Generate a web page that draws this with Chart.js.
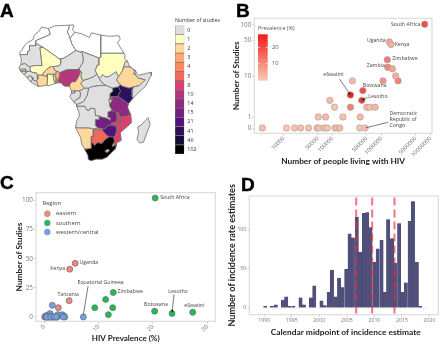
<!DOCTYPE html>
<html>
<head>
<meta charset="utf-8">
<script src="https://cdn.jsdelivr.net/npm/chart.js@4"></script>
<style>
  html, body { margin: 0; padding: 0; background: #fff; }
  #page { position: relative; width: 440px; height: 344px; overflow: hidden; }
  canvas { position: absolute; }
  .letter { position: absolute; font: bold 19px "Liberation Sans", sans-serif; line-height: 19px; color: #000; -webkit-text-stroke: 0.4px #000; }
</style>
</head>
<body>
<div id="page">
  <canvas id="map" width="165" height="172" style="left:0;top:0"></canvas>
  <canvas id="mapKey" width="55" height="172" style="left:165px;top:0"></canvas>
  <canvas id="people" width="220" height="172" style="left:220px;top:0"></canvas>
  <canvas id="prev" width="220" height="172" style="left:0;top:172px"></canvas>
  <canvas id="hist" width="220" height="172" style="left:220px;top:172px"></canvas>
  <div class="letter" style="left:0;top:1px">A</div>
  <div class="letter" style="left:236px;top:1px">B</div>
  <div class="letter" style="left:0;top:173px">C</div>
  <div class="letter" style="left:241px;top:175px">D</div>
</div>
<script>
// panel A: studies per country, outlines are [lon, lat]
const keyLabels = ["0", "1", "2", "3", "4", "5", "8", "10", "14", "15", "21", "41", "46", "102"];
const keyColors = ["#dfdfdf", "#ffffc0", "#fed79b", "#fea772", "#fd8a5e", "#f4675c", "#dc3f6b", "#b5367a", "#8c2981", "#71207f", "#51127c", "#2c115f", "#140e36", "#000000"];

const countries = {
  Morocco: [null, [[-17,21.3],[-17,22.5],[-16,23.7],[-14.5,26.2],[-13,27.7],[-10,29.5],[-9.7,31.5],[-6.8,34],[-5.9,35.8],[-2.2,35.1],[-1.2,32.1],[-3.6,30.9],[-8.7,28.7],[-8.7,26],[-12,26],[-12,23.4],[-13,23],[-13,21.3]]],
  Algeria: [null, [[-8.7,27.3],[-8.7,28.7],[-3.6,30.9],[-1.2,32.1],[-2.2,35.1],[1,36.5],[8.6,36.9],[8.3,34.5],[7.5,33.8],[9,30],[9.9,27],[12,23.5],[5.8,19.4],[3.3,19],[1.2,20.7],[-4.8,25]]],
  Tunisia: [null, [[8.6,36.9],[11,37],[10.2,34.3],[11.5,33.1],[10.2,31.5],[9,30],[7.5,33.8],[8.3,34.5]]],
  Libya: [null, [[11.5,33.1],[15,32.3],[19,30.3],[20,32.8],[25,31.6],[25,20],[24,19.5],[15,23],[14.2,22.6],[12,23.5],[9.9,27],[9,30],[10.2,31.5]]],
  Egypt: [null, [[25,31.6],[29,31],[32.5,31.2],[34.3,31.3],[34.9,29.5],[33.5,27.5],[35.7,23.9],[36.9,22],[25,22]]],
  Mauritania: [0, [[-17,21.3],[-13,21.3],[-13,23],[-12,23.4],[-12,26],[-8.7,26],[-8.7,27.3],[-4.8,25],[-6.6,25],[-5.5,15.5],[-9.5,15.5],[-12,14.8],[-14.5,16.6],[-16.5,16],[-16.2,19]]],
  Mali: [1, [[-4.8,25],[1.2,20.7],[3.3,19],[4.2,19.1],[4.2,16.8],[3.5,15.4],[0.3,14.9],[-0.5,15.1],[-2,14.2],[-3,13.6],[-4.4,12.2],[-5.4,10.4],[-6.2,10.5],[-8,10.3],[-8.3,11.5],[-10.7,11.9],[-11.4,12.4],[-12,14.8],[-9.5,15.5],[-5.5,15.5],[-6.6,25]]],
  Niger: [0, [[12,23.5],[14.2,22.6],[15,23],[15.5,21],[15.9,19],[15.5,16.9],[13.6,13.7],[13.2,13.5],[10.7,13.3],[7.8,13.3],[6.8,13.1],[3.6,11.7],[2.8,12.3],[2.2,12.4],[0.9,13],[0.3,14.9],[3.5,15.4],[4.2,16.8],[4.2,19.1],[5.8,19.4]]],
  Chad: [0, [[15,23],[24,19.5],[24,15.7],[23,15.7],[22.5,14.1],[22,12.9],[22.9,11],[21,9.5],[18.9,8.6],[15.5,7.5],[14.5,10],[15,12],[14,13],[13.6,13.7],[15.5,16.9],[15.9,19],[15.5,21]]],
  Sudan: [1, [[25,22],[36.9,22],[37.4,21],[37.3,18.9],[38.6,18],[37.4,17.2],[36.5,14.3],[36.1,12.7],[35,11],[34,9.6],[32.7,12.2],[29,9.6],[27,9.6],[26,10.7],[24,8.8],[22.9,11],[22,12.9],[22.5,14.1],[23,15.7],[24,15.7],[24,19.5],[25,20]]],
  SouthSudan: [0, [[24,8.8],[26,10.7],[27,9.6],[29,9.6],[32.7,12.2],[34,9.6],[33,7.9],[35,5.3],[34,4.2],[30.8,3.5],[29,4.4],[27.4,5],[25,7]]],
  CAR: [0, [[15.5,7.5],[18.9,8.6],[21,9.5],[22.9,11],[24,8.8],[25,7],[27.4,5],[25,5],[22.8,4.7],[20.5,4.4],[18.6,3.5],[16.5,3.5],[15,5],[14.5,6.2]]],
  Eritrea: [0, [[36.5,14.3],[37.4,17.2],[38.6,18],[39.7,15.1],[43,12.7],[42.4,12.5],[40.5,14.6],[37.9,14.9]]],
  Djibouti: [0, [[42.4,12.5],[43,12.7],[43.3,11.6],[42.6,11],[41.8,11.1]]],
  Ethiopia: [2, [[36.1,12.7],[36.5,14.3],[37.9,14.9],[40.5,14.6],[42.4,12.5],[41.8,11.1],[42.6,11],[44,9],[47.9,8],[44.9,5],[42,4.2],[39.5,3.5],[35.9,4.6],[35,5.3],[33,7.9],[34,9.6],[35,11]]],
  Somalia: [0, [[42.6,11],[43.3,11.6],[44.5,10.4],[51,12],[51,10.4],[48,4.5],[44.7,1.5],[41.6,-1.7],[41,-0.9],[41,2.8],[42,4.2],[44.9,5],[47.9,8],[44,9]]],
  Kenya: [41, [[35.9,4.6],[39.5,3.5],[42,4.2],[41,2.8],[41,-0.9],[41.6,-1.7],[39.2,-4.7],[37.7,-3.6],[34,-1],[34,0.2],[35,1.9],[34,4.2],[35,5.3]]],
  Uganda: [46, [[30.8,3.5],[34,4.2],[35,1.9],[34,0.2],[34,-1],[30.4,-1],[29.6,-1.4],[29.6,0.6],[31.2,2.2]]],
  Rwanda: [8, [[29.6,-1.4],[30.4,-1],[30.8,-2.3],[29,-2.8]]],
  Burundi: [1, [[29,-2.8],[30.8,-2.3],[30.2,-4.2],[29.4,-4.4]]],
  Tanzania: [14, [[30.4,-1],[34,-1],[37.7,-3.6],[39.2,-4.7],[38.8,-6.5],[39.5,-8.5],[40.4,-10.4],[38,-11.3],[34.9,-11.6],[34,-9.5],[33,-9.5],[31.2,-8.6],[29.5,-6],[29.4,-4.4],[30.2,-4.2],[30.8,-2.3]]],
  Mozambique: [8, [[40.4,-10.4],[40.8,-14.7],[38,-17.3],[35,-19.9],[35.5,-24],[33,-25.5],[32.9,-26.9],[32,-26.9],[31.3,-25.7],[32,-24.5],[31.3,-22.4],[32.4,-21.3],[33,-19],[32.9,-16.7],[30.4,-16],[30.2,-15],[33.2,-14],[34.5,-14.5],[35.2,-16.9],[35.8,-16],[34.9,-11.6],[38,-11.3]]],
  Malawi: [8, [[34,-9.5],[34.9,-11.6],[35.8,-16],[35.2,-16.9],[34.5,-14.5],[33.2,-14],[33,-9.5]]],
  Zambia: [15, [[31.2,-8.6],[33,-9.5],[33.2,-14],[30.2,-15],[30.4,-16],[28.8,-16.1],[27,-17.9],[25.3,-17.8],[23.4,-17.6],[22,-16.2],[22,-13],[24,-13],[24,-11],[25.3,-11.7],[28,-12.3],[29.8,-13.4],[29.8,-12.2],[28.5,-11.7],[28.6,-9],[30.7,-8.2]]],
  Zimbabwe: [21, [[27,-17.9],[28.8,-16.1],[30.4,-16],[32.9,-16.7],[33,-19],[32.4,-21.3],[31.3,-22.4],[29.4,-22.2],[28,-21.5],[26.2,-19.5],[25.3,-17.8]]],
  Botswana: [5, [[20,-22],[21,-22],[21,-18.3],[23.4,-18.5],[25.3,-17.8],[26.2,-19.5],[28,-21.5],[29.4,-22.2],[27,-23.7],[25.5,-25.7],[23,-25.3],[21.7,-26.8],[20,-24.8]]],
  Namibia: [2, [[11.8,-17.3],[13.9,-17.4],[18.5,-17.4],[21,-18],[23.4,-17.6],[25.3,-17.8],[23.4,-18.5],[21,-18.3],[21,-22],[20,-22],[20,-28.4],[17.3,-28.7],[16.5,-28.6],[15,-26],[14.4,-22.5]]],
  SouthAfrica: [102, [[16.5,-28.6],[17.3,-28.7],[20,-28.4],[20,-24.8],[21.7,-26.8],[23,-25.3],[25.5,-25.7],[27,-23.7],[29.4,-22.2],[31.3,-22.4],[32,-24.5],[31.3,-25.7],[32,-26.9],[32.9,-26.9],[32.5,-28.5],[31,-30],[28,-33],[25.7,-34],[22.5,-34],[20,-34.8],[18.4,-34.2],[18.2,-32],[17,-29.7]]],
  Lesotho: [3, [[27,-29.6],[28.6,-28.6],[29.4,-29.4],[28.5,-30.4],[27.4,-30.3]]],
  eSwatini: [4, [[30.8,-26.4],[31.4,-25.8],[32,-26],[32,-26.9],[31,-27.3]]],
  Angola: [0, [[11.8,-17.3],[13.9,-17.4],[18.5,-17.4],[21,-18],[23.4,-17.6],[22,-16.2],[22,-13],[24,-13],[24,-11],[22.2,-11],[21.8,-7.3],[19.5,-7],[19,-8],[17.6,-8],[16.5,-5.9],[12.3,-6],[13.5,-9],[13.8,-11],[12.5,-13.5]]],
  DRC: [0, [[12.3,-6],[16.5,-5.9],[17.6,-8],[19,-8],[19.5,-7],[21.8,-7.3],[22.2,-11],[24,-11],[25.3,-11.7],[28,-12.3],[29.8,-13.4],[29.8,-12.2],[28.5,-11.7],[28.6,-9],[30.7,-8.2],[29.5,-6],[29.4,-4.4],[29,-2.8],[29.6,-1.4],[29.6,0.6],[31.2,2.2],[30.8,3.5],[29,4.4],[27.4,5],[25,5],[22.8,4.7],[20.5,4.4],[18.6,3.5],[17.7,-0.5],[16,-3.5],[14,-4.5],[12.3,-5]]],
  Congo: [0, [[18.6,3.5],[16.5,3.5],[14,2.2],[13.2,2.2],[14.4,1.3],[14,-1.5],[12,-2.5],[11,-4],[12.3,-5],[14,-4.5],[16,-3.5],[17.7,-0.5]]],
  Gabon: [0, [[9.7,1],[11.3,1],[11.3,2.2],[13.2,2.2],[14.4,1.3],[14,-1.5],[12,-2.5],[11,-4],[8.8,-1]]],
  EqGuinea: [0, [[9.7,2.2],[11.3,2.2],[11.3,1],[9.7,1]]],
  Cameroon: [2, [[8.5,4.7],[9.7,2.2],[13.2,2.2],[14,2.2],[16.5,3.5],[15,5],[14.5,6.2],[15.5,7.5],[14.5,10],[15,12],[14,13],[13.6,13.7],[14.2,12],[13,9],[11.7,7],[10,7],[8.8,5.8]]],
  Nigeria: [10, [[2.7,6.4],[4.5,6.3],[5.5,4.9],[7,4.4],[8.5,4.7],[8.8,5.8],[10,7],[11.7,7],[13,9],[14.2,12],[13.6,13.7],[13.2,13.5],[10.7,13.3],[7.8,13.3],[6.8,13.1],[3.6,11.7],[3.7,10],[2.7,8]]],
  Benin: [3, [[1.6,6.2],[2.7,6.4],[2.7,8],[3.7,10],[3.6,11.7],[2.8,12.3],[2.2,12.4],[0.9,11],[1.6,9]]],
  Togo: [0, [[1.2,6.1],[1.6,6.2],[1.6,9],[0.9,11],[0,11],[0.5,8]]],
  Ghana: [1, [[-3.1,5.1],[-2,4.8],[1.2,6.1],[0.5,8],[0,11],[-2.8,11],[-2.7,8]]],
  Ivory: [2, [[-7.5,4.4],[-3.1,5.1],[-2.7,8],[-2.8,9.7],[-3.5,9.9],[-5.4,10.4],[-6.2,10.5],[-8,10.3],[-7.7,8.4],[-8.4,7.6]]],
  Burkina: [2, [[-5.4,10.4],[-3.5,9.9],[-2.8,11],[0,11],[0.9,11],[2.2,12.4],[0.9,13],[0.3,14.9],[-0.5,15.1],[-2,14.2],[-3,13.6],[-4.4,12.2]]],
  Liberia: [0, [[-11.5,6.9],[-7.5,4.4],[-8.4,7.6],[-9.5,7.4],[-10.3,8.4]]],
  SierraLeone: [0, [[-13.2,8.9],[-11.5,6.9],[-10.3,8.4],[-10.7,9.3],[-11.2,10],[-12.5,9.9]]],
  Guinea: [0, [[-15,10.9],[-13.2,8.9],[-12.5,9.9],[-11.2,10],[-10.7,9.3],[-10.3,8.4],[-9.5,7.4],[-8.4,7.6],[-7.7,8.4],[-8,10.3],[-8.3,11.5],[-10.7,11.9],[-11.4,12.4],[-13.7,12.6],[-13.7,11.8]]],
  GuineaBissau: [0, [[-16.7,12.4],[-15,10.9],[-13.7,11.8],[-13.7,12.6]]],
  Senegal: [0, [[-17.5,14.7],[-16.7,12.4],[-13.7,12.6],[-11.4,12.4],[-12,14.8],[-14.5,16.6],[-16.5,16]]],
  Gambia: [1, [[-16.8,13.7],[-14,13.7],[-14,13.1],[-16.8,13.1]]],
  Madagascar: [0, [[49.3,-12],[50.4,-15.5],[49.5,-18],[47,-25],[45,-25.5],[43.6,-23.5],[44.4,-20],[44,-17],[46,-15.7],[48,-13.5]]]
};

// panel B
const bPeople = [3670, 11500, 16800, 22200, 32400, 48000, 52600, 67600, 77800, 112000, 124000, 141000, 361000, 464000,
  51000, 72000, 163000, 367000, 110000, 233000, 502000, 578000, 743000, 88300, 397000, 233000, 416000,
  256000, 1080000, 2190000, 1960000, 1320000, 1350000, 1680000, 1450000, 1570000, 7650000];
const bStudies = [0, 0, 0, 0, 0, 0, 0, 0, 0, 0, 0, 0, 0, 0,
  1, 1, 1, 1, 2, 2, 2, 2, 2, 3, 3, 4, 5,
  8, 8, 8, 10, 21, 15, 14, 46, 41, 102];
const bPrev = [2, 1, 1.5, 2, 2, 1, 2, 2, 1, 2, 2, 3, 1, 1,
  2, 3, 2, 3, 1, 11.8, 3, 2, 3, 3, 23.5, 27.3, 20.3,
  2.6, 9.3, 12.6, 5, 12.7, 11.3, 6, 5.7, 4.7, 20.4];
const bXTicks = [10000, 50000, 100000, 500000, 1000000, 5000000, 10000000];
const bYTicks = [0, 1, 10, 50, 100];

// panel C
const regionNames = ["eastern", "southern", "western/central"];
const regionColors = ["#f2877e", "#22bb55", "#6f9fee"];
const eastern = [[5.7, 46], [4.7, 41], [4.6, 14], [2.6, 8], [0.9, 2], [1, 0], [0.3, 1], [0.1, 0], [1.6, 0], [2.3, 0]];
const southern = [[20.4, 102], [12.7, 21], [11.3, 15], [12.6, 8], [9.3, 8], [11.8, 2], [20.3, 5], [23.5, 3], [27.3, 4]];
const westernCentral = [[7.2, 0], [1.5, 10], [0.2, 0], [0.5, 0], [0.8, 0], [1.1, 3], [1.4, 0], [1.6, 0], [2, 0], [2.4, 0], [2.5, 2], [3.3, 2], [3.6, 1], [3.8, 0], [0.4, 1], [1.3, 1], [0.7, 0], [0.45, 0], [1.2, 0], [1.8, 0], [2.2, 0], [3.5, 0]];
const cXTicks = [0, 10, 20, 30];
const cYTicks = [0, 25, 50, 75, 100];

// panel D
const dMidpoints = [1990.2, 1990.8, 1991.4, 1992.1, 1992.7, 1993.4, 1994, 1994.6, 1995.3, 1995.9, 1996.6, 1997.2, 1997.8, 1998.5, 1999.1, 1999.8, 2000.4, 2001, 2001.7, 2002.3, 2003, 2003.6, 2004.2, 2004.9, 2005.5, 2006.1, 2006.8, 2007.4, 2008.1, 2008.7, 2009.3, 2010, 2010.6, 2011.3, 2011.9, 2012.5, 2013.2, 2013.8, 2014.5, 2015.1, 2015.7, 2016.4, 2017, 2017.7, 2018.3];
const dCounts = [2, 0, 2, 4, 0, 10, 14, 2, 2, 0, 13, 4, 0, 13, 28, 0, 9, 3, 20, 48, 14, 38, 26, 49, 94, 89, 115, 71, 120, 121, 102, 58, 75, 86, 20, 112, 88, 57, 107, 20, 32, 110, 135, 58, 2];
const dMarkers = [2006.7, 2009.6, 2013.65];
const dBaseline = [1989.7, 2019.8];
const dXTicks = [1990, 1995, 2000, 2005, 2010, 2015, 2020];
const dYTicks = [0, 50, 100];

Chart.defaults.animation = false;
Chart.defaults.responsive = false;
Chart.defaults.font.family = '"Open Sans", sans-serif';
Chart.defaults.plugins.legend.display = false;
Chart.defaults.plugins.tooltip.enabled = false;

const GREY = "#7a7a7a";
const titleFont = { family: "Lato", weight: "bold", size: 8.3 };

function keyColor(v) {
  return v === null ? "#ffffff" : keyColors[keyLabels.indexOf(String(v))];
}

// panel B y axis is hand stretched, so interpolate on log(v + 1) between its ticks
const bYStops = [0, 11, 52, 88, 103.3];
function bY(v) {
  const u = x => Math.log10(x + 1);
  let i = 0;
  while (i < bYTicks.length - 2 && v > bYTicks[i + 1]) i++;
  const t = (u(v) - u(bYTicks[i])) / (u(bYTicks[i + 1]) - u(bYTicks[i]));
  return bYStops[i] + t * (bYStops[i + 1] - bYStops[i]);
}

function prevColor(p) {
  const t = Math.min(p / 28, 1);
  const r = 251 - t * 20, g = 203 - t * 170, b = 182 - t * 150;
  return `rgb(${r}, ${g}, ${b})`;
}

const frame = {
  id: "frame",
  beforeDatasetsDraw(chart) {
    const a = chart.chartArea, c = chart.ctx;
    c.save();
    c.strokeStyle = "#dcdcdc";
    c.lineWidth = 1.2;
    c.strokeRect(a.left, a.top, a.right - a.left, a.bottom - a.top);
    c.restore();
  }
};

// country names and callouts: x, y in data units, dx, dy in px, line is from/to offsets in px
const notes = {
  id: "notes",
  afterDatasetsDraw(chart, args, opts) {
    const c = chart.ctx, xs = chart.scales.x, ys = chart.scales.y;
    (opts.items || []).forEach(n => {
      const px = xs.getPixelForValue(n.x), py = ys.getPixelForValue(n.y);
      if (n.line) {
        const [x0, y0] = [px + n.line[0], py + n.line[1]];
        const [x1, y1] = [px + n.line[2], py + n.line[3]];
        c.save();
        c.strokeStyle = "#444";
        c.fillStyle = "#222";
        c.lineWidth = 0.7;
        c.beginPath();
        c.moveTo(x0, y0);
        c.lineTo(x1, y1);
        c.stroke();
        if (n.arrow) {
          const a = Math.atan2(y1 - y0, x1 - x0);
          c.beginPath();
          c.moveTo(x1, y1);
          c.lineTo(x1 - 3 * Math.cos(a - 0.45), y1 - 3 * Math.sin(a - 0.45));
          c.lineTo(x1 - 3 * Math.cos(a + 0.45), y1 - 3 * Math.sin(a + 0.45));
          c.fill();
        }
        c.restore();
      }
      c.save();
      c.font = '5.2px "Open Sans"';
      c.fillStyle = "#444";
      c.textAlign = n.align || "left";
      c.textBaseline = "middle";
      n.text.split("\n").forEach((t, i) => c.fillText(t, px + n.dx, py + n.dy + i * 6.2));
      c.restore();
    });
  }
};

function axisTicks(list) {
  return scale => { scale.ticks = list.map(v => ({ value: v })); };
}
function fixedHeight(h) { return s => { s.height = h; }; }
function fixedWidth(w) { return s => { s.width = w; }; }

// panel A, first dataset draws on top so enclaves must come first
new Chart(document.getElementById("map"), {
  type: "scatter",
  data: {
    datasets: Object.keys(countries).reverse().map(name => ({
      label: name,
      data: countries[name][1].concat([countries[name][1][0]]),
      showLine: true,
      fill: "shape",
      backgroundColor: keyColor(countries[name][0]),
      borderColor: "#6e6e6e",
      borderWidth: 0.8,
      pointRadius: 0,
      tension: 0,
      clip: false
    }))
  },
  options: {
    scales: {
      x: { display: false, min: -27.3, max: 58.1 },
      y: { display: false, min: -40.8, max: 50.2 }
    }
  }
});

new Chart(document.getElementById("mapKey"), {
  type: "bar",
  data: {
    labels: keyLabels,
    datasets: [{
      data: keyLabels.map(() => 1),
      backgroundColor: keyColors,
      borderColor: "#777",
      borderWidth: 0.7,
      borderSkipped: false,
      barPercentage: 1,
      categoryPercentage: 1
    }]
  },
  options: {
    indexAxis: "y",
    layout: { padding: { left: 10, bottom: 18 } },
    plugins: {
      title: {
        display: true,
        text: "Number of studies",
        font: { size: 5.4, weight: "normal" },
        color: "#333",
        padding: { top: 16.8, bottom: 2.3 }
      }
    },
    scales: {
      x: { display: false, min: 0, max: 1 },
      y: {
        position: "right",
        afterFit: fixedWidth(35.7),
        border: { display: false },
        grid: { display: false, drawTicks: false, tickLength: 0 },
        ticks: { autoSkip: false, color: "#333", font: { size: 5.4 }, padding: 3 }
      }
    }
  }
});

// panel B
new Chart(document.getElementById("people"), {
  type: "scatter",
  plugins: [frame, notes, {
    id: "prevKey",
    afterDatasetsDraw(chart, args, opts) {
      const c = chart.ctx, g = c.createLinearGradient(0, 34.3, 0, 80.7);
      g.addColorStop(0, "#f01a14");
      g.addColorStop(1, "#fbcbb6");
      c.save();
      c.fillStyle = g;
      c.fillRect(38, 34.3, 9.7, 46.4);
      c.strokeStyle = "#fff";
      c.lineWidth = 0.6;
      [47.5, 63.5].forEach(y => {
        c.beginPath(); c.moveTo(38, y); c.lineTo(40, y); c.moveTo(45.7, y); c.lineTo(47.7, y); c.stroke();
      });
      c.fillStyle = "#555";
      c.font = '5.4px "Open Sans"';
      c.textBaseline = "middle";
      c.fillText("Prevalence (%)", 38, 28.7);
      c.font = '5.8px "Open Sans"';
      c.fillText("20", 52, 47.5);
      c.fillText("10", 52, 63.5);
      c.restore();
    }
  }],
  data: {
    datasets: [{
      data: bPeople.map((p, i) => ({ x: p, y: bY(bStudies[i]) })),
      backgroundColor: bPrev.map(prevColor),
      borderColor: "#a09a98",
      borderWidth: 0.6,
      pointRadius: 3.2
    }]
  },
  options: {
    layout: { padding: { right: 8, top: 18.3 } },
    plugins: {
      notes: {
        items: [
          { text: "South Africa", x: 7650000, y: bY(102), dx: -4.3, dy: 0, align: "right" },
          { text: "Uganda", x: 1450000, y: bY(46), dx: -3.7, dy: -1.3, align: "right" },
          { text: "Kenya", x: 1570000, y: bY(41), dx: 3.7, dy: 0 },
          { text: "Zimbabwe", x: 1320000, y: bY(21), dx: 5, dy: -1.7 },
          { text: "Zambia", x: 1350000, y: bY(15), dx: -3, dy: -2, align: "right" },
          { text: "eSwatini", x: 233000, y: bY(4), dx: -17, dy: -20, align: "center", line: [-11, -16, 0, 0], arrow: true },
          { text: "Botswana", x: 416000, y: bY(5), dx: 0, dy: -4.7 },
          { text: "Lesotho", x: 397000, y: bY(3), dx: 6.4, dy: -4.3, line: [5.7, -3, 0, 0], arrow: true },
          { text: "Democratic\nRepublic of\nCongo", x: 464000, y: bY(0), dx: 24.5, dy: -14.7, line: [23, -5.7, 0, 0] }
        ]
      }
    },
    scales: {
      x: {
        type: "logarithmic",
        min: 2518,
        max: 10820000,
        afterFit: fixedHeight(38.7),
        afterBuildTicks: axisTicks(bXTicks),
        border: { display: false },
        grid: { drawOnChartArea: false, tickLength: 2, color: "#ccc" },
        ticks: { autoSkip: false, minRotation: 45, maxRotation: 45, color: GREY, font: { size: 5.6 }, padding: 0, callback: v => String(v) },
        title: { display: true, text: "Number of people living with HIV", color: "#222", font: titleFont, padding: { top: 6, bottom: 6 } }
      },
      y: {
        min: -5.3,
        max: 109.7,
        afterFit: fixedWidth(34.3),
        afterBuildTicks: axisTicks(bYTicks.map(bY)),
        border: { display: false },
        grid: { drawOnChartArea: false, tickLength: 2, color: "#ccc" },
        ticks: { color: GREY, font: { size: 6.4 }, padding: 1, callback: v => String(bYTicks[bYStops.indexOf(v)]) },
        title: { display: true, text: "Number of Studies", color: "#222", font: titleFont, padding: { top: 11, bottom: 11 } }
      }
    }
  }
});

// panel C, first dataset draws on top
function regionSet(points, i) {
  return {
    label: regionNames[i],
    data: points,
    backgroundColor: regionColors[i],
    borderColor: "#6a6a6a",
    borderWidth: 0.7,
    pointRadius: 3
  };
}

new Chart(document.getElementById("prev"), {
  type: "scatter",
  plugins: [frame, notes, {
    id: "regionKey",
    afterDatasetsDraw(chart) {
      const c = chart.ctx;
      c.save();
      c.textBaseline = "middle";
      c.fillStyle = "#444";
      c.font = '5.8px "Open Sans"';
      c.fillText("Region", 42.5, 31.7);
      regionNames.forEach((name, i) => {
        const y = 41.7 + i * 9.2;
        c.beginPath();
        c.arc(47.3, y, 3, 0, Math.PI * 2);
        c.fillStyle = regionColors[i];
        c.fill();
        c.strokeStyle = "#999";
        c.lineWidth = 0.6;
        c.stroke();
        c.fillStyle = "#444";
        c.fillText(name, 56, y);
      });
      c.restore();
    }
  }],
  data: { datasets: [regionSet(westernCentral, 2), regionSet(southern, 1), regionSet(eastern, 0)] },
  options: {
    layout: { padding: { right: 2.7, top: 20.7 } },
    plugins: {
      notes: {
        items: [
          { text: "South Africa", x: 20.4, y: 102, dx: 5, dy: -0.7 },
          { text: "Uganda", x: 5.7, y: 46, dx: 4.3, dy: -0.7 },
          { text: "Kenya", x: 4.7, y: 41, dx: -4.7, dy: -0.3, align: "right" },
          { text: "Zimbabwe", x: 12.7, y: 21, dx: 4.3, dy: -1.3 },
          { text: "Tanzania", x: 4.6, y: 14, dx: -1, dy: -6.3, align: "center" },
          { text: "Equatorial Guineea", x: 7.2, y: 0, dx: 17.3, dy: -34.7, align: "center", line: [4.7, -30.7, 0, -2] },
          { text: "Botswana", x: 20.3, y: 5, dx: 1.3, dy: -6.3, align: "center" },
          { text: "Lesotho", x: 23.5, y: 3, dx: 6, dy: -22.3, align: "center", line: [2, -19, 0, -1], arrow: true },
          { text: "eSwatini", x: 27.3, y: 4, dx: 1.7, dy: -6.3, align: "center" }
        ]
      }
    },
    scales: {
      x: {
        min: -1.5,
        max: 31.45,
        afterFit: fixedHeight(22.7),
        afterBuildTicks: axisTicks(cXTicks),
        border: { display: false },
        grid: { drawOnChartArea: false, tickLength: 2, color: "#ccc" },
        ticks: { autoSkip: false, minRotation: 45, maxRotation: 45, color: GREY, font: { size: 6 }, padding: 0 },
        title: { display: true, text: "HIV Prevalence (%)", color: "#222", font: { family: "Lato", weight: "bold", size: 8 }, padding: { top: 1, bottom: 1 } }
      },
      y: {
        min: -3.7,
        max: 106.6,
        afterFit: fixedWidth(36),
        afterBuildTicks: axisTicks(cYTicks),
        border: { display: false },
        grid: { drawOnChartArea: false, tickLength: 2, color: "#ccc" },
        ticks: { color: GREY, font: { size: 6.4 }, padding: 1 },
        title: { display: true, text: "Number of Studies", color: "#222", font: titleFont, padding: { top: 14, bottom: 14 } }
      }
    }
  }
});

// panel D
new Chart(document.getElementById("hist"), {
  type: "bar",
  plugins: [frame, {
    // scale title sat a few px left of the reference, so this one is placed by hand
    id: "histTitle",
    afterDraw(chart) {
      const c = chart.ctx;
      c.save();
      c.font = 'bold 8.4px Lato';
      c.fillStyle = "#222";
      c.textAlign = "center";
      c.textBaseline = "middle";
      c.fillText("Calendar midpoint of incidence estimate", 125.7, 160);
      c.restore();
    }
  }],
  data: {
    datasets: [
      ...dMarkers.map(m => ({
        type: "line",
        data: [{ x: m, y: -7 }, { x: m, y: 140 }],
        borderColor: "rgba(240, 40, 60, 0.65)",
        borderWidth: 2,
        borderDash: [8, 4],
        pointRadius: 0,
        order: 1
      })),
      {
        data: dMidpoints.map((x, i) => ({ x: x, y: dCounts[i] })),
        backgroundColor: "#50507c",
        borderColor: "#44446a",
        borderWidth: 0.4,
        barPercentage: 1,
        categoryPercentage: 1,
        order: 2
      },
      {
        type: "line",
        data: dBaseline.map(x => ({ x: x, y: 0 })),
        borderColor: "#ececec",
        borderWidth: 1,
        pointRadius: 0,
        order: 3
      }
    ]
  },
  options: {
    layout: { padding: { right: 1.7, top: 24 } },
    scales: {
      x: {
        type: "linear",
        offset: false,
        min: 1987.3,
        max: 2021.6,
        afterFit: fixedHeight(29.3),
        afterBuildTicks: axisTicks(dXTicks),
        border: { display: false },
        grid: { offset: false, drawOnChartArea: false, tickLength: 2, color: "#ccc" },
        ticks: { autoSkip: false, maxRotation: 0, color: GREY, font: { size: 5.2 }, padding: 1, callback: v => String(v) }
      },
      y: {
        min: -8.5,
        max: 142,
        afterFit: fixedWidth(29.3),
        afterBuildTicks: axisTicks(dYTicks),
        border: { display: false },
        grid: { drawOnChartArea: false, tickLength: 2, color: "#ccc" },
        ticks: { color: GREY, font: { size: 5.2 }, padding: 1 },
        title: { display: true, text: "Number of incidence rate estimates", color: "#222", font: { family: "Lato", weight: "bold", size: 9 }, padding: { top: 7, bottom: 7 } }
      }
    }
  }
});
</script>
</body>
</html>
